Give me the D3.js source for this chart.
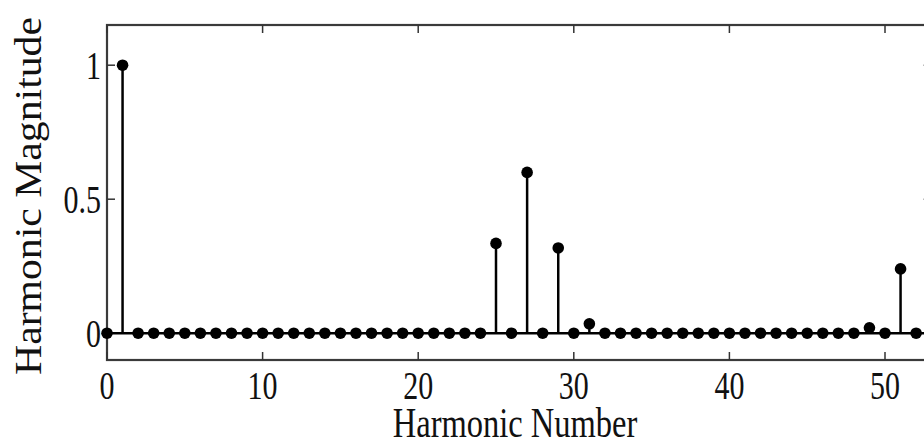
<!DOCTYPE html>
<html><head><meta charset="utf-8">
<script src="https://cdn.jsdelivr.net/npm/d3@7"></script>
<style>html,body{margin:0;padding:0;background:#fff;overflow:hidden}</style>
</head><body>
<svg id="chart" width="924" height="442"></svg>
<script>
const harmonics = d3.range(0, 53);
const magnitudes = [0,1.0,0,0,0,0,0,0,0,0,0,0,0,0,0,0,0,0,0,0,0,0,0,0,0,0.335,0,0.60,0,0.318,0,0.035,0,0,0,0,0,0,0,0,0,0,0,0,0,0,0,0,0,0.02,0,0.24,0];
const xTicks = [0,10,20,30,40,50];
const yTicks = [0,0.5,1];
const yTickLabels = ["0","0.5","1"];
const xLabel = "Harmonic Number";
const yLabel = "Harmonic Magnitude";

const svg = d3.select("#chart");
svg.append("rect").attr("width",924).attr("height",442).attr("fill","#fff");
const x = d3.scaleLinear().domain([0,53]).range([107, 107+53*15.56]);
const y = d3.scaleLinear().domain([-0.1,1.15]).range([360,25]);
const font = "'Liberation Serif','Times New Roman',serif";
const sy = 1.35;

// frame
svg.append("rect").attr("x",x(0)).attr("y",y(1.15)).attr("width",x(53)-x(0)).attr("height",y(-0.1)-y(1.15))
  .attr("fill","none").attr("stroke","#3a3a3a").attr("stroke-width",2.2);

// ticks
const tl = 8;
xTicks.forEach(t=>{
  svg.append("line").attr("x1",x(t)).attr("x2",x(t)).attr("y1",y(-0.1)).attr("y2",y(-0.1)-tl).attr("stroke","#333").attr("stroke-width",1.5);
  svg.append("line").attr("x1",x(t)).attr("x2",x(t)).attr("y1",y(1.15)).attr("y2",y(1.15)+tl).attr("stroke","#333").attr("stroke-width",1.5);
  svg.append("g").attr("transform",`translate(${x(t)},${y(-0.1)+39}) scale(1,${sy})`)
    .append("text").attr("text-anchor","middle").attr("font-family",font).attr("font-size",30).attr("fill","#111").text(t);
});
yTicks.forEach((t,i)=>{
  svg.append("line").attr("x1",x(0)).attr("x2",x(0)+tl).attr("y1",y(t)).attr("y2",y(t)).attr("stroke","#333").attr("stroke-width",1.5);
  svg.append("line").attr("x1",x(53)).attr("x2",x(53)-tl).attr("y1",y(t)).attr("y2",y(t)).attr("stroke","#333").attr("stroke-width",1.5);
  svg.append("g").attr("transform",`translate(${x(0)-6},${y(t)+14}) scale(1,${sy})`)
    .append("text").attr("text-anchor","end").attr("font-family",font).attr("font-size",30).attr("fill","#111").text(yTickLabels[i]);
});

// baseline
svg.append("line").attr("x1",x(0)).attr("x2",x(53)).attr("y1",y(0)).attr("y2",y(0)).attr("stroke","#000").attr("stroke-width",2.5);

// stems
const pts = harmonics.map((h,i)=>({h, v: magnitudes[i]}));
svg.append("g").selectAll("line").data(pts.filter(d=>d.v!==0)).join("line")
  .attr("x1",d=>x(d.h)).attr("x2",d=>x(d.h)).attr("y1",y(0)).attr("y2",d=>y(d.v))
  .attr("stroke","#000").attr("stroke-width",2.5);
svg.append("g").selectAll("circle").data(pts).join("circle")
  .attr("cx",d=>x(d.h)).attr("cy",d=>y(d.v)).attr("r",5.8).attr("fill","#000");

// axis labels
svg.append("g").attr("transform",`translate(${515},${437}) scale(1,1.28)`)
  .append("text").attr("text-anchor","middle").attr("font-family",font).attr("font-size",32.5).attr("fill","#111").text(xLabel);
svg.append("g").attr("transform",`translate(${41},${196}) rotate(-90)`)
  .append("text").attr("text-anchor","middle").attr("font-family",font).attr("font-size",38).attr("fill","#111")
  .attr("textLength",358).attr("lengthAdjust","spacingAndGlyphs").text(yLabel);
</script>
</body></html>
